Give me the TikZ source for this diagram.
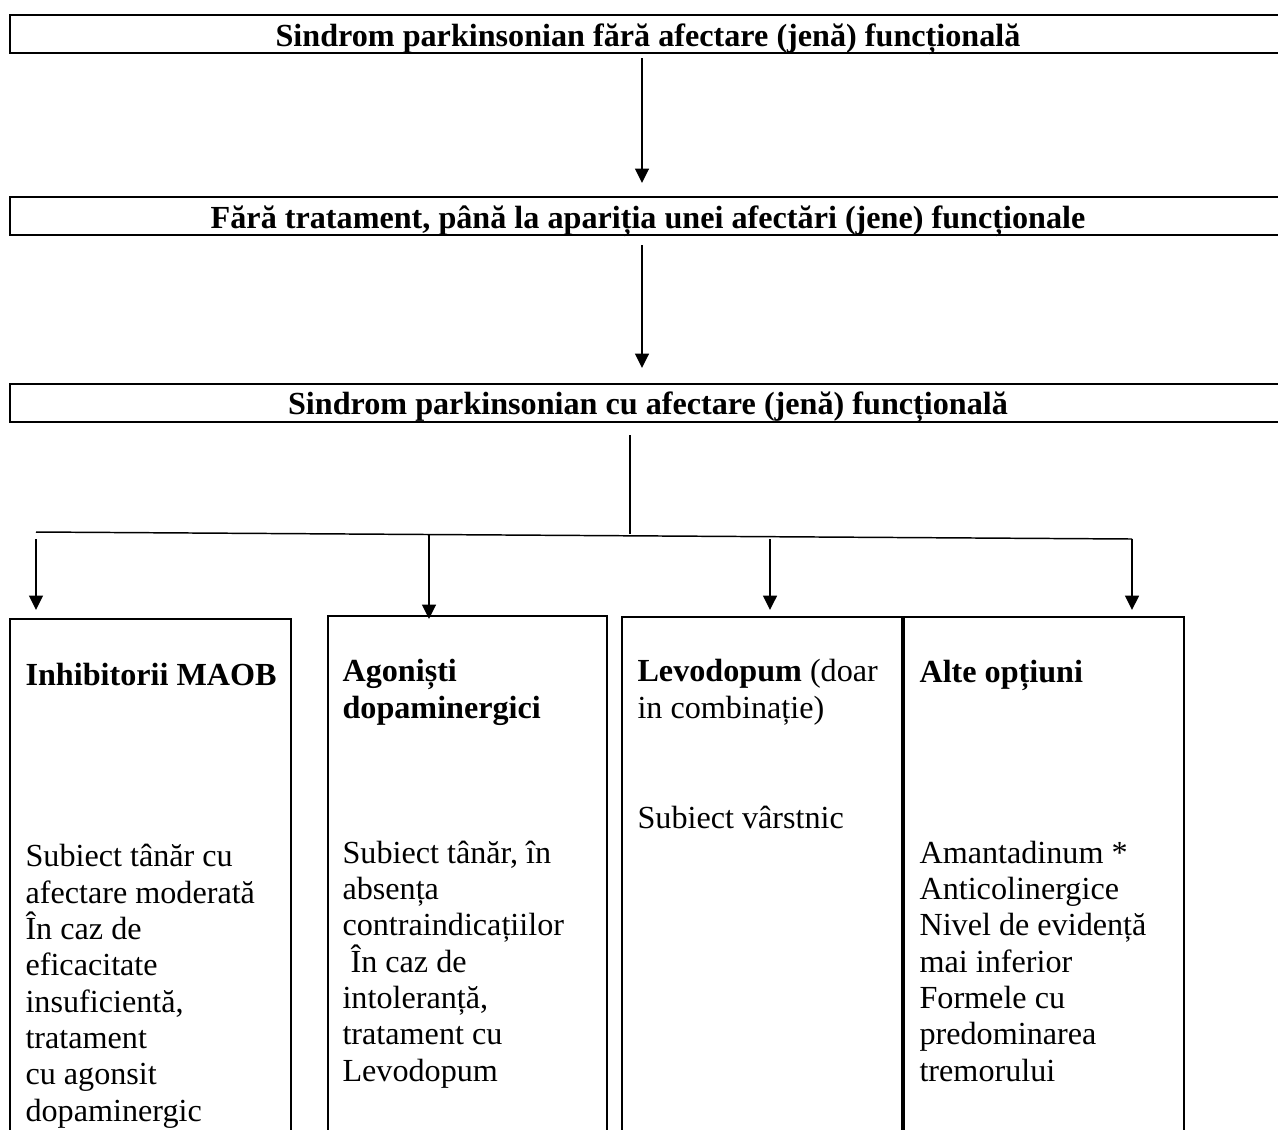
\documentclass[tikz,border=0pt]{standalone}
\usepackage{fontspec}
\setmainfont{Liberation Serif}
\usetikzlibrary{arrows.meta}
\begin{document}
\begin{tikzpicture}[x={(0.3731pt,0)}, y={(0,-0.3731pt)},
  boxline/.style={draw=black, line width=0.65pt},
  headtxt/.style={font=\fontsize{12}{13.55}\selectfont\bfseries, inner sep=0pt, anchor=base},
  celltxt/.style={font=\fontsize{12}{13.55}\selectfont, inner sep=0pt, anchor=base west, align=left},
  cellhead/.style={celltxt, font=\fontsize{12}{13.55}\selectfont\bfseries},
  arr/.style={line width=0.7pt, -{Triangle[length=5.4pt,width=5.2pt]}},
  thinline/.style={line width=0.45pt}]
\useasboundingbox (0,0) rectangle (1278,1129);
\begin{scope}
\clip (0,0) rectangle (1278,1129);
% top boxes
\draw[boxline] (10,15) rectangle (1290,53);
\draw[boxline] (10,197) rectangle (1290,235);
\draw[boxline] (10,384) rectangle (1290,422);
\node[headtxt] (h1) at (648,46) {Sindrom parkinsonian fără afectare (jenă) funcțională};
\node[headtxt] (h2) at (648,228) {Fără tratament, până la apariția unei afectări (jene) funcționale};
\node[headtxt] (h3) at (648,414) {Sindrom parkinsonian cu afectare (jenă) funcțională};
% connector points
\coordinate (a1s) at (642,58);  \coordinate (a1e) at (642,183);
\coordinate (a2s) at (642,245); \coordinate (a2e) at (642,368);
\coordinate (vs) at (630,435);  \coordinate (ve) at (630,534);
\coordinate (hl) at (36,532);   \coordinate (hr) at (1132,539);
\coordinate (bAs) at (36,539);  \coordinate (bAe) at (36,610);
\coordinate (bBs) at (429,534); \coordinate (bBe) at (429,619);
\coordinate (bCs) at (770,539); \coordinate (bCe) at (770,610);
\coordinate (bDe) at (1132,610);
\draw[arr] (a1s) -- (a1e);
\draw[arr] (a2s) -- (a2e);
\draw[thinline] (vs) -- (ve);
\draw[line width=0.55pt] (hl) -- (hr);
\draw[arr] (bAs) -- (bAe);
\draw[arr] (bBs) -- (bBe);
\draw[arr] (bCs) -- (bCe);
\draw[arr] (hr) -- (bDe);
% lower boxes
\draw[boxline] (10,619) rectangle (291,1145);
\draw[boxline] (328,616) rectangle (607,1145);
\draw[boxline] (622,617) rectangle (902,1145);
\draw[boxline] (904,617) rectangle (1184,1145);
% box A (anchor = baseline of the last line)
\node[cellhead] (tA) at (25,685) {Inhibitorii MAOB};
\node[celltxt] (bA) at (25,1121) {Subiect tânăr cu\\afectare moderată\\În caz de\\eficacitate\\insuficientă,\\tratament\\cu agonsit\\dopaminergic};
% box B
\node[cellhead] (tB) at (342,718) {Agoniști\\dopaminergici};
\node[celltxt] (bB) at (342,1081) {Subiect tânăr, în\\absența\\contraindicațiilor\\\ În caz de\\intoleranță,\\tratament cu\\Levodopum};
% box C
\node[celltxt] (tC) at (637,718) {\textbf{Levodopum} (doar\\in combinație)};
\node[celltxt] (bC) at (637,828) {Subiect vârstnic};
% box D
\node[cellhead] (tD) at (919,682) {Alte opțiuni};
\node[celltxt] (bD) at (919,1081) {Amantadinum *\\Anticolinergice\\Nivel de evidență\\mai inferior\\Formele cu\\predominarea\\tremorului};
\end{scope}
\end{tikzpicture}
\end{document}
